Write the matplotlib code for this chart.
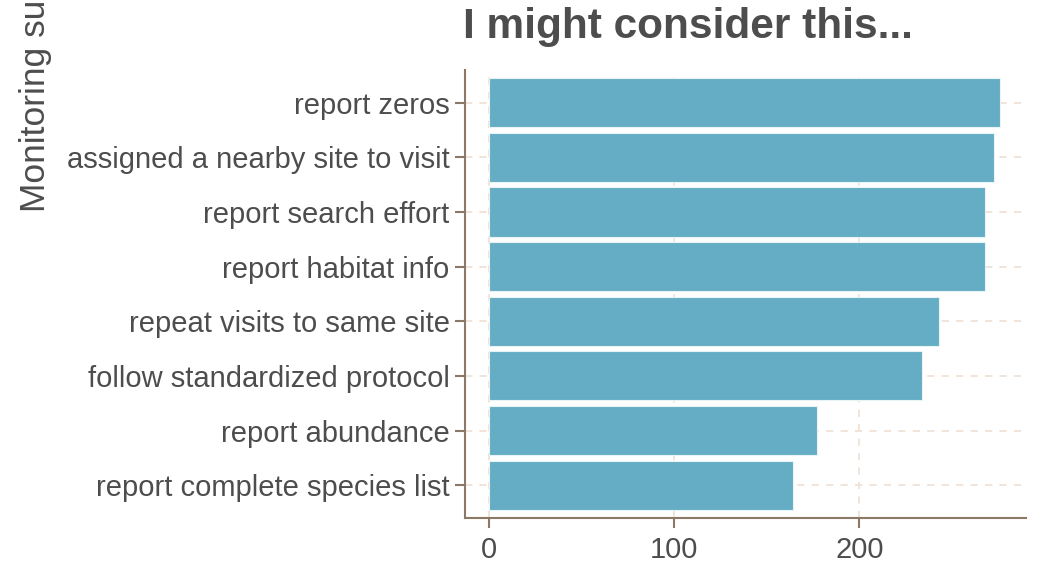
import matplotlib
matplotlib.use("Agg")
from matplotlib import pyplot as plt

# dados (de cima para baixo)
labels = ["report zeros", "assigned a nearby site to visit", "report search effort",
          "report habitat info", "repeat visits to same site", "follow standardized protocol",
          "report abundance", "report complete species list"]
counts = [276, 273, 268, 268, 243, 234, 177, 164]

text_col = "#4d4d4d"
axis_col = "#8c7866"
grid_col = "#efe2d8"
bar_col = "#65adc4"

plt.rcParams["font.family"] = ["Liberation Sans", "DejaVu Sans"]

fig = plt.figure(figsize=(10.4, 5.63), dpi=100)
ax = fig.add_axes([0.447, 0.080, 0.5395, 0.796])

pos = list(range(len(labels)))[::-1]
ax.barh(pos, counts, height=0.9, color=bar_col, edgecolor="#e8f3f6", linewidth=0.8, zorder=2)

ax.set_yticks(pos)
ax.set_yticklabels(labels)
ax.set_ylim(-0.6, len(labels) - 0.4)
ax.set_xlim(-13, 290)
ax.set_xticks([0, 100, 200])

ax.grid(True, color=grid_col, linestyle=(0, (4, 4)), linewidth=1.3, zorder=0)
for s in ["top", "right"]:
    ax.spines[s].set_visible(False)
for s in ["left", "bottom"]:
    ax.spines[s].set_color(axis_col)
    ax.spines[s].set_linewidth(1.5)
ax.tick_params(colors=axis_col, width=1.5, length=7, labelsize=21, labelcolor=text_col, pad=4)
ax.tick_params(axis="x", pad=6)

fig.text(0.445, 0.952, "I might consider this...", fontsize=30.5, fontweight="bold",
         color=text_col, ha="left", va="center")
fig.text(0.034, 0.623, "Monitoring survey features", rotation=90, fontsize=25.5,
         color=text_col, ha="center", va="bottom")

plt.savefig("out.png", dpi=100)
